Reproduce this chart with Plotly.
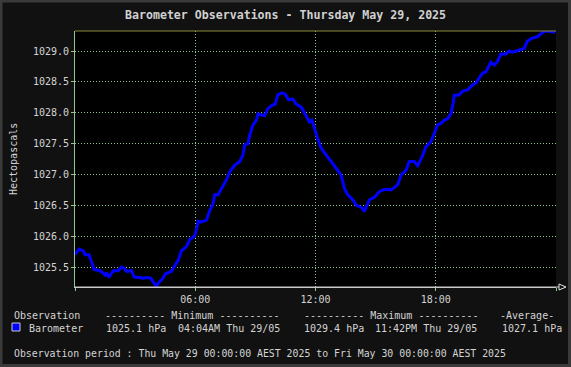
import plotly.graph_objects as go

# ---- data ----
hours = [0.00, 0.20, 0.42, 0.50, 0.70, 0.83, 0.96, 1.25, 1.50, 1.58, 1.69, 1.91, 2.16, 2.32, 2.46,
         2.57, 2.82, 2.95, 3.24, 3.40, 3.57, 3.78, 3.90, 4.07, 4.15, 4.35, 4.52, 4.82, 4.95, 5.15,
         5.31, 5.56, 5.73, 5.94, 6.02, 6.14, 6.31, 6.56, 6.72, 6.89, 6.97, 7.14, 7.31, 7.55, 7.72,
         7.97, 8.22, 8.38, 8.47, 8.63, 8.72, 8.88, 9.05, 9.13, 9.46, 9.63, 9.83, 9.99, 10.12, 10.32,
         10.49, 10.66, 10.87, 11.04, 11.29, 11.45, 11.70, 11.82, 11.95, 12.13, 12.29, 12.53, 12.78,
         13.03, 13.28, 13.45, 13.61, 13.86, 14.03, 14.28, 14.44, 14.69, 14.94, 15.19, 15.44, 15.77,
         16.10, 16.27, 16.52, 16.68, 16.93, 17.10, 17.35, 17.51, 17.76, 17.93, 18.09, 18.26, 18.43,
         18.59, 18.76, 18.87, 18.92, 19.17, 19.34, 19.59, 19.84, 20.00, 20.17, 20.33, 20.50, 20.63,
         20.75, 20.92, 21.08, 21.25, 21.50, 21.66, 21.83, 22.03, 22.25, 22.41, 22.57, 22.82, 23.07,
         23.24, 23.40, 23.70, 23.95]
pressure = [1025.70, 1025.79, 1025.76, 1025.70, 1025.70, 1025.58, 1025.46, 1025.44, 1025.37, 1025.41,
            1025.33, 1025.44, 1025.44, 1025.50, 1025.48, 1025.43, 1025.44, 1025.34, 1025.33, 1025.32,
            1025.33, 1025.32, 1025.26, 1025.18, 1025.24, 1025.30, 1025.39, 1025.43, 1025.51, 1025.61,
            1025.76, 1025.83, 1025.95, 1025.99, 1026.05, 1026.24, 1026.23, 1026.26, 1026.41, 1026.53,
            1026.67, 1026.67, 1026.77, 1026.91, 1027.04, 1027.15, 1027.21, 1027.31, 1027.48, 1027.50,
            1027.64, 1027.80, 1027.88, 1027.98, 1027.95, 1028.07, 1028.12, 1028.14, 1028.29, 1028.32,
            1028.30, 1028.21, 1028.22, 1028.14, 1028.09, 1027.99, 1027.85, 1027.88, 1027.73, 1027.56,
            1027.42, 1027.31, 1027.21, 1027.10, 1026.99, 1026.77, 1026.67, 1026.59, 1026.50, 1026.47,
            1026.40, 1026.59, 1026.63, 1026.72, 1026.76, 1026.75, 1026.83, 1026.99, 1027.07, 1027.21,
            1027.21, 1027.14, 1027.31, 1027.45, 1027.53, 1027.67, 1027.80, 1027.83, 1027.88, 1027.90,
            1027.99, 1028.15, 1028.28, 1028.29, 1028.35, 1028.37, 1028.45, 1028.48, 1028.56, 1028.64,
            1028.66, 1028.75, 1028.82, 1028.77, 1028.83, 1028.95, 1028.95, 1029.00, 1028.98, 1029.00,
            1029.02, 1029.04, 1029.16, 1029.21, 1029.23, 1029.27, 1029.32, 1029.32, 1029.30]

x_tickvals = [0, 6, 12, 18, 24]
x_ticktext = ["", "06:00", "12:00", "18:00", ""]
y_tickvals = [1025.5, 1026.0, 1026.5, 1027.0, 1027.5, 1028.0, 1028.5, 1029.0]
y_ticktext = ["1025.5", "1026.0", "1026.5", "1027.0", "1027.5", "1028.0", "1028.5", "1029.0"]
y_range = [1025.176, 1029.324]

title = "Barometer Observations - Thursday May 29, 2025"
series_name = "Barometer"
stat_min = "1025.1 hPa"
stat_min_time = "04:04AM Thu 29/05"
stat_max = "1029.4 hPa"
stat_max_time = "11:42PM Thu 29/05"
stat_avg = "1027.1 hPa"
period = "Observation period : Thu May 29 00:00:00 AEST 2025 to Fri May 30 00:00:00 AEST 2025"

# ---- layout geometry ----
W, H = 571, 367
L, R, T, B = 75, 556, 31, 287
PW, PH = R - L, B - T


def px(x):
    return (x - L) / PW


def py(y):
    return (B - y) / PH


MONO = "DejaVu Sans Mono"
TXT = "#d4d4d4"
GRID = "#8fc88f"
OLIVE = "#8a8a3a"

fig = go.Figure()
fig.add_trace(go.Scatter(x=hours, y=pressure, mode="lines",
                         line=dict(color="#0000ff", width=3), showlegend=False))

fig.update_layout(
    width=W, height=H,
    margin=dict(l=L, r=W - R, t=T, b=H - B),
    paper_bgcolor="#111111", plot_bgcolor="#000000",
    font=dict(family=MONO, size=10, color=TXT),
    showlegend=False,
)
fig.update_xaxes(range=[0, 24], tickvals=x_tickvals, ticktext=x_ticktext,
                 showgrid=True, gridcolor=GRID, griddash="1px,2px", gridwidth=1,
                 showline=True, linecolor="#c8c8c8", linewidth=1,
                 ticks="outside", ticklen=3, tickcolor=GRID,
                 tickfont=dict(family=MONO, size=10, color=TXT),
                 zeroline=False, fixedrange=True)
fig.update_layout(
    yaxis=dict(range=y_range, tickvals=y_tickvals, ticktext=y_ticktext,
               showgrid=True, gridcolor=GRID, griddash="1px,2px", gridwidth=1,
               showline=True, linecolor=GRID, linewidth=1,
               ticks="outside", ticklen=3, tickcolor=GRID,
               tickfont=dict(family=MONO, size=10, color=TXT),
               zeroline=False, fixedrange=True),
    yaxis2=dict(range=y_range, tickvals=y_tickvals, overlaying="y", side="right",
                showgrid=False, showticklabels=False, showline=True, linecolor=OLIVE,
                linewidth=1, ticks="outside", ticklen=3, tickcolor=GRID,
                zeroline=False, fixedrange=True),
)

shapes = []
# top border (olive)
shapes.append(dict(type="line", xref="paper", yref="paper", x0=0, x1=1, y0=1, y1=1,
                   line=dict(color=OLIVE, width=1), layer="above"))
# bottom axis redraw + arrow
shapes.append(dict(type="line", xref="paper", yref="paper", x0=0, x1=px(559), y0=0, y1=0,
                   line=dict(color="#c8c8c8", width=1), layer="above"))
shapes.append(dict(type="path", xref="paper", yref="paper",
                   path=f"M {px(559)} {py(284)} L {px(566)} {py(287)} L {px(559)} {py(290)} Z",
                   line=dict(color="#e0e0e0", width=1), fillcolor="#111111", layer="above"))
# outer frame
shapes.append(dict(type="rect", xref="paper", yref="paper",
                   x0=px(1), x1=px(W - 1.5), y0=py(1), y1=py(H - 1.5),
                   line=dict(color="#3a3a3a", width=3), layer="above"))
# legend square
shapes.append(dict(type="rect", xref="paper", yref="paper",
                   x0=px(12), x1=px(20), y0=py(323), y1=py(331),
                   line=dict(color="#c8c8c8", width=1), fillcolor="#0000ff", layer="above"))
fig.update_layout(shapes=shapes)

ann = []


def text(x, y, s, size=10, color=TXT, anchor="left", **kw):
    ann.append(dict(x=px(x), y=py(y), xref="paper", yref="paper", text=s, showarrow=False,
                    xanchor=anchor, yanchor="middle",
                    font=dict(family=MONO, size=size, color=color), **kw))


text(285.5, 15, "<b>" + title + "</b>", size=11.6, color="#d0d0d0", anchor="center")
ann.append(dict(x=px(13), y=py(159), xref="paper", yref="paper", text="Hectopascals",
                showarrow=False, textangle=-90, xanchor="center", yanchor="middle",
                font=dict(family=MONO, size=10, color=TXT)))

text(12, 315, "Observation")
text(103, 315, "---------- Minimum ----------")
text(301.5, 315, "---------- Maximum ----------")
text(498, 315, "-Average-")
text(26.5, 328, series_name)
text(103.5, 328, stat_min)
text(176, 328, stat_min_time)
text(301.5, 328, stat_max)
text(373, 328, stat_max_time)
text(499.5, 328, stat_avg)
text(12, 353.5, period, size=9.85)

fig.update_layout(annotations=ann)
fig.write_html("out.html", config={"displayModeBar": False},
               post_script="document.body.style.margin='0px';")
